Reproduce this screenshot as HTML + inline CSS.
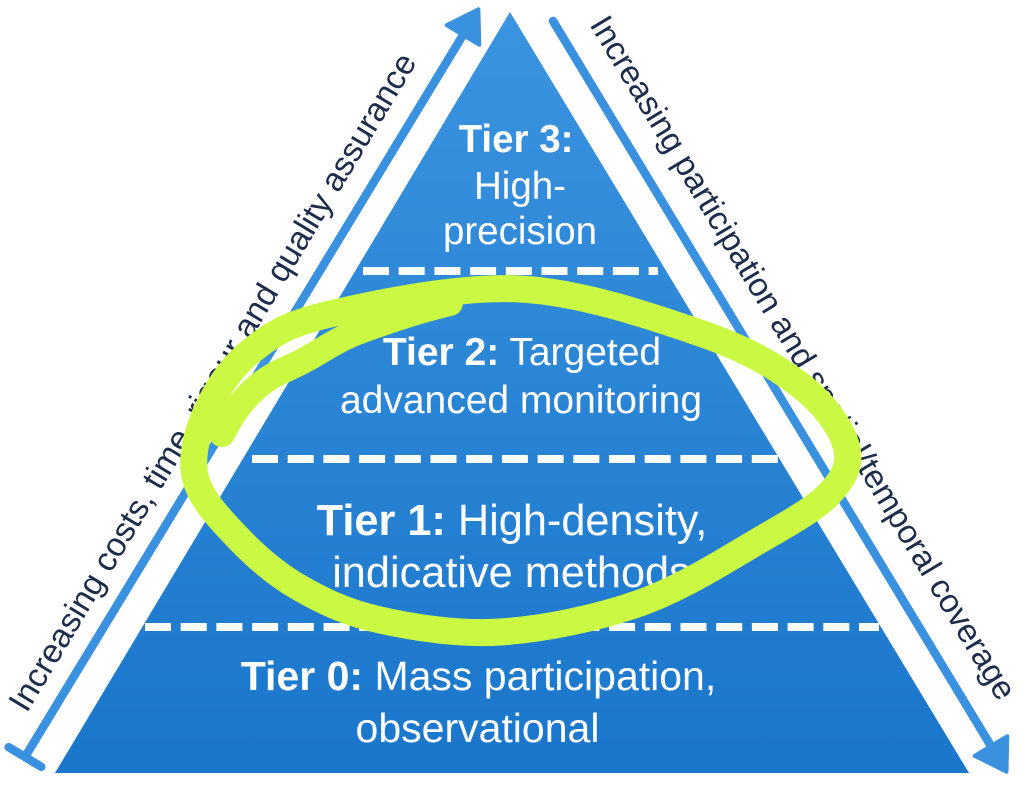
<!DOCTYPE html>
<html>
<head>
<meta charset="utf-8">
<style>
  html, body { margin: 0; padding: 0; background: #ffffff; }
  body { width: 1024px; height: 795px; overflow: hidden; }
  svg { display: block; }
  text { font-family: "Liberation Sans", Arial, sans-serif; }
</style>
</head>
<body>
<svg width="1024" height="795" viewBox="0 0 1024 795" xmlns="http://www.w3.org/2000/svg">
  <defs>
    <linearGradient id="tri" x1="0" y1="12" x2="0" y2="773" gradientUnits="userSpaceOnUse">
      <stop offset="0" stop-color="#3b94e0"/>
      <stop offset="1" stop-color="#1a76cb"/>
    </linearGradient>
  </defs>

  <rect x="0" y="0" width="1024" height="795" fill="#ffffff"/>

  <!-- Pyramid -->
  <polygon points="510,12 55,773 969,773" fill="url(#tri)"/>

  <!-- Dashed dividers -->
  <g stroke="#ffffff" stroke-width="8" stroke-dasharray="26 9.7" fill="none">
    <line x1="363" y1="271" x2="658" y2="271"/>
    <line x1="252" y1="459" x2="778" y2="459"/>
    <line x1="145" y1="627" x2="879" y2="627"/>
  </g>

  <!-- Tier labels -->
  <g fill="#ffffff" text-anchor="middle">
    <text x="516" y="152" font-size="38.5" font-weight="bold">Tier 3:</text>
    <text x="520" y="199" font-size="38.5">High-</text>
    <text x="520" y="244" font-size="38.5">precision</text>

    <text x="522" y="365" font-size="39"><tspan font-weight="bold">Tier 2:</tspan> Targeted</text>
    <text x="521" y="413" font-size="39">advanced monitoring</text>

    <text x="512" y="535" font-size="43.3"><tspan font-weight="bold">Tier 1:</tspan> High-density,</text>
    <text x="511.5" y="587" font-size="43.3">indicative methods</text>

    <text x="478.5" y="690" font-size="41"><tspan font-weight="bold">Tier 0:</tspan> Mass participation,</text>
    <text x="477.5" y="742" font-size="41">observational</text>
  </g>

  <!-- Arrows -->
  <g stroke="#3a91df" fill="#3a91df" stroke-linecap="round" stroke-linejoin="round">
    <line x1="25" y1="757" x2="463" y2="35" stroke-width="8.5"/>
    <line x1="8.7" y1="747.2" x2="41.3" y2="766.8" stroke-width="8.5"/>
    <polygon points="478.4,9.3 479.3,44.8 446.7,25.2" stroke-width="4"/>
    <line x1="553" y1="21" x2="991" y2="746" stroke-width="8.5"/>
    <polygon points="1006.5,771.7 1007.3,736.2 974.7,755.8" stroke-width="4"/>
  </g>

  <!-- Side labels -->
  <g fill="#1e2c4c">
    <text transform="translate(26.8,713.8) rotate(-59.07)" font-size="33.4" textLength="760" lengthAdjust="spacing">Increasing costs, time, rigour and quality assurance</text>
    <text transform="translate(589,24.5) rotate(58.87)" font-size="33.2" textLength="792" lengthAdjust="spacing">Increasing participation and spatial/temporal coverage</text>
  </g>

  <!-- Hand-drawn green ellipse -->
  <g fill="none" stroke="#cbf943" stroke-linecap="round" stroke-linejoin="round">
    <path stroke-width="27" d="M 520 289
      C 581.7 292.2, 653.3 317, 700 333
      C 746.7 349, 775.7 366.3, 800 385
      C 824.3 403.7, 840.8 427.2, 846 445
      C 851.2 462.8, 845.3 476.2, 831 492
      C 816.7 507.8, 791.8 521.5, 760 540
      C 728.2 558.5, 683.3 587.7, 640 603
      C 596.7 618.3, 543.3 629.2, 500 632
      C 456.7 634.8, 413.3 627.3, 380 620
      C 346.7 612.7, 323.3 601.3, 300 588
      C 276.7 574.7, 257.3 558, 240 540
      C 222.7 522, 201.8 500.8, 196 480
      C 190.2 459.2, 196 436.3, 205 415
      C 214 393.7, 229.2 368.8, 250 352
      C 270.8 335.2, 285 324.5, 330 314
      C 375 303.5, 458.3 285.8, 520 289 Z"/>
    <path stroke-width="26" d="M 222 434
      C 232 414, 244 398, 257 387
      C 270 376, 280 372, 297 364
      C 318 354, 335 340, 360 331
      C 390 320, 420 310, 450 303"/>
  </g>
</svg>
</body>
</html>
